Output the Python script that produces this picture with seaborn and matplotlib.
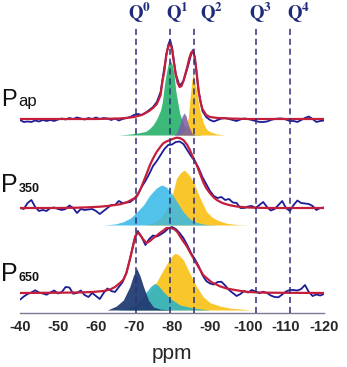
import numpy as np
import pandas as pd
import seaborn as sns
import matplotlib.pyplot as plt

# chemical shift grid for the measured spectra (ppm)
grid = np.arange(-40, -121, -1)

# ---- P_ap : measured (blue) and fit (red), heights above baseline
pap_blue = [-1, -3, -2.5, -3, -1.5, -2.5, -1, -2, -1, -2,
            -0.5, 0.5, -0.5, 1, 0, 1.5, 0.5, -0.5, 1, 0,
            1.5, 0, 1, 0.5, -1, 0.5, -1.5, 0, 1, 2,
            4, 5, 4, 6, 9, 12, 17, 27, 52, 74,
            72, 45, 33, 38, 50, 64, 61, 28, 8, 2,
            -1, -2.5, -1, 0.5, 1, 0, -1, -2, -0.5, 0.5,
            0, -1, -2, -3, -3, -2.5, -1, 0, 0.5, 0.5,
            -0.5, -2, -2, -3, -1, 1, 2.5, 0, -3, -2, -1.5]
pap_blue_peak_ppm = [-79.5, -85.5]
pap_blue_peak = [79, 69]

pap_fit_ppm = [-40, -50, -60, -66, -68, -70, -71, -72, -73, -74, -75, -76, -77, -77.5,
               -78, -78.5, -79, -79.5, -80, -80.5, -81, -81.5, -82, -82.5, -83, -83.5,
               -84, -84.5, -85, -85.5, -86, -86.5, -87, -87.5, -88, -89, -90, -92, -95,
               -100, -110, -120]
pap_fit = [0, 0, 0, 0.5, 1, 2, 3, 4, 6, 8, 11, 15, 24, 38,
           48, 65, 72, 76, 70, 56, 44, 36, 32, 33, 38, 45,
           52, 60, 66, 68, 62, 46, 28, 17, 10, 4, 2, 1, 0.5,
           0, 0, 0]

# P_ap components
pap_green_ppm = [-66, -69, -71, -73, -74, -75, -76, -77, -77.5, -78, -78.5, -79, -79.5,
                 -80, -80.5, -81, -81.5, -82, -83, -84, -85, -86, -88]
pap_green = [0, 1, 2, 3.5, 6, 10, 16, 25, 34, 50, 62, 71, 75,
             71, 62, 44, 33, 22, 11, 5, 2.5, 1, 0]
pap_purple_ppm = [-80.5, -81.2, -82.1, -82.7, -83.2, -83.7, -84.3, -85.2, -86]
pap_purple = [0, 2, 11, 19, 22, 19, 10, 2, 0]
pap_yellow_ppm = [-82, -83, -83.9, -84.3, -84.7, -85.2, -85.6, -86, -86.5, -87, -87.4,
                  -88.3, -89, -90, -91.8, -94]
pap_yellow = [0, 3, 10, 18, 35, 54, 62, 55, 43, 31, 23, 11.7, 6, 3.3, 1, 0]

# ---- P_350
p350_blue = [0, -1, 5, 8, 1, -3, -2, -3, 0, 0.5,
             -1, -2, -1, 2.5, 0, -5, -1, -2, -1.5, -1,
             -3, -6, -3, 0, 3, 3, 7, 5, 5.5, 6,
             9, 14, 21, 27, 34, 42, 47, 53, 59, 63,
             63.5, 66, 66.5, 64, 58, 52, 47, 40, 31, 24,
             17, 12, 10, 11, 8, 9, 5.5, 5, 0, 0,
             1.5, 2, 0, 3, 6, 1, -2.5, -1, 3, 7,
             0, -3, 3, 7.5, 5, 4.5, 4, 2, -2, 0, 0.5]
p350_fit_ppm = [-40, -50, -55, -58, -61, -63, -65, -66.3, -68, -69, -70, -70.7, -71.5,
                -72.5, -73.5, -74.2, -75, -76, -77, -77.7, -78.5, -79.5, -80.5, -81.2,
                -82, -83, -84, -84.7, -85.5, -86.5, -87.5, -88.2, -89, -90, -91, -91.8,
                -93, -93.5, -95, -97, -100, -105, -120]
p350_fit = [0, 0, 0.3, 0.7, 1.3, 2, 3, 3.7, 5.5, 7.5, 9.5, 11.3, 17,
            26.3, 36, 43, 49.5, 56.3, 61.5, 64.7, 66.5, 68, 69.5, 70.3,
            70, 68, 63, 58, 51, 43, 33, 26, 20, 14.7, 10.5, 8,
            5.5, 4.7, 3, 1.5, 0.5, 0, 0]
p350_cyan_ppm = [-62, -65, -67, -69, -70.5, -72.5, -74.2, -76, -77.3, -78.5, -80, -81.5,
                 -83, -84.7, -86.5, -89, -92]
p350_cyan = [0, 1, 3, 6.7, 12, 20, 30, 37.3, 40, 38, 31, 22, 13, 6, 2.5, 0.5, 0]
p350_yellow_ppm = [-73, -75, -77, -78.5, -79.5, -80.3, -81.2, -82.2, -83.2, -84.3, -85.6,
                   -87.4, -89.1, -90.5, -91.8, -94.4, -97, -100]
p350_yellow = [0, 2, 7, 15, 24, 33.3, 46.7, 52, 55, 51, 43.3, 26.7, 13.3, 8, 5, 1.7, 0.5, 0]

# ---- P_650
p650_blue = [-6.7, -3.5, -1, 0.5, 2.7, 0.5, -0.5, -1.7, 0.5, 2.5,
             -0.5, 1, 6, 5.5, -0.7, 0, 2.5, -2, -4, 0,
             -3, -6, 0, 4.5, 2, 1, 6, 11, 20, 35,
             52, 62, 56, 48, 54, 57.5, 56.5, 58.5, 61, 64.5,
             66, 64, 60, 55, 48, 40, 34, 27, 18, 12,
             9.5, 8.5, 11, 11.3, 7.5, 3, 0, -3, -1, 2,
             0.5, 3, 1.5, -0.3, 1.3, 0, -2.5, -4, -4.3, -1.5,
             1.5, 3, 3, 2.5, 4, 8, 1, -3, -1.5, -2.5, -1]
p650_fit_ppm = [-40, -50, -55, -59, -62, -63.7, -65, -66.3, -67.2, -68, -68.9, -69.7,
                -70.3, -71.1, -71.8, -72.5, -73.3, -74.2, -75.1, -76, -76.8, -77.7,
                -78.6, -79.5, -80.2, -80.8, -81.5, -82.1, -83, -83.9, -84.7, -85.6,
                -86.5, -87.4, -88.2, -89.1, -90.5, -91.8, -92.6, -94.4, -97, -100,
                -105, -120]
p650_fit = [0, 0.3, 0.5, 1, 2, 3.5, 6, 10, 13.3, 20, 33.3, 46,
            56.7, 60.7, 57, 53.3, 50, 52, 55, 57.5, 60, 62.5,
            65, 65, 64.5, 63.3, 60.5, 56.7, 51.5, 46.7, 41, 35,
            29, 23.3, 18, 15, 10.5, 8.3, 6.7, 4.5, 2.7, 1,
            0.3, 0]
p650_navy_ppm = [-63, -65.4, -67.2, -68.9, -69.8, -70.7, -71.6, -72.5, -73.8, -75.1, -77, -80]
p650_navy = [0, 4, 10, 23.3, 34, 41.7, 34, 23.3, 10, 3, 0.8, 0]
p650_teal_ppm = [-66, -68, -69.8, -71.6, -73.3, -74.5, -75.5, -76.5, -77.7, -79.5, -82.1,
                 -85.6, -90]
p650_teal = [0, 1.5, 4, 10, 18.3, 24, 26.7, 24, 18.3, 11.7, 5, 2, 0]
p650_yellow_ppm = [-68, -70.7, -72.5, -74.2, -76, -77.7, -79, -80, -80.8, -81.8, -83, -84.7,
                   -86.5, -88.2, -90, -92.6, -95, -98, -101]
p650_yellow = [0, 3, 8.3, 16.7, 28.3, 40, 48.3, 54, 56.7, 55, 50, 36.7,
               23.3, 13.3, 7.3, 4, 2, 1, 0]

# Q^n reference positions
q_names = ['0', '1', '2', '3', '4']
q_ppm = [-70.5, -79.5, -85.8, -102, -111]
q_label_ppm = [-71.4, -81.3, -90.3, -103.4, -113.2]
xticks = [-40, -50, -60, -70, -80, -90, -100, -110, -120]

# colours
RED = '#c41e3a'
BLUE = '#1c1c96'
DASH = '#2c2f7c'
GREEN = '#3cb878'
YELLOW = '#f9c62b'
PURPLE = '#7b5aa6'
CYAN = '#35b8e8'
TEAL = '#2db3c6'
NAVY = '#223d73'

sns.set_style('white')
plt.rcParams['font.family'] = ['Liberation Sans', 'DejaVu Sans']
plt.rcParams['mathtext.fontset'] = 'stix'

W, H = 347, 367
fig = plt.figure(figsize=(W / 100, H / 100), dpi=100)
ax = fig.add_axes([20 / W, 54 / H, 304 / W, 313 / H])

# vertical offsets (pixel units above axis line)
off = {'ap': 194, '350': 105, '650': 20}
fill_off = {'ap': 178, '350': 88, '650': 3}


def component(ppm, vals, base, color, alpha=1.0, z=1):
    ax.fill_between(ppm, np.array(vals) + base, base, color=color, alpha=alpha,
                    lw=0, zorder=z)


def spectrum(ppm, vals, base, color, lw, z):
    d = pd.DataFrame({'ppm': ppm, 'y': np.array(vals, dtype=float) + base})
    sns.lineplot(data=d, x='ppm', y='y', ax=ax, color=color, lw=lw,
                 estimator=None, sort=True, zorder=z)


# P_ap
component(pap_green_ppm, pap_green, fill_off['ap'], GREEN)
component(pap_yellow_ppm, pap_yellow, fill_off['ap'], YELLOW)
component(pap_purple_ppm, pap_purple, fill_off['ap'], PURPLE, alpha=0.85)
spectrum(list(grid) + pap_blue_peak_ppm, pap_blue + pap_blue_peak, off['ap'], BLUE, 1.3, 2)
spectrum(pap_fit_ppm, pap_fit, off['ap'], RED, 1.6, 3)

# P_350
component(p350_yellow_ppm, p350_yellow, fill_off['350'], YELLOW)
component(p350_cyan_ppm, p350_cyan, fill_off['350'], CYAN, alpha=0.85)
spectrum(grid, p350_blue, off['350'], BLUE, 1.3, 2)
spectrum(p350_fit_ppm, p350_fit, off['350'], RED, 1.6, 3)

# P_650
component(p650_yellow_ppm, p650_yellow, fill_off['650'], YELLOW)
component(p650_teal_ppm, p650_teal, fill_off['650'], TEAL, alpha=0.9)
component(p650_navy_ppm, p650_navy, fill_off['650'], NAVY, alpha=0.95)
spectrum(grid, p650_blue, off['650'], BLUE, 1.3, 2)
spectrum(p650_fit_ppm, p650_fit, off['650'], RED, 1.6, 3)

# Q^n dashed guides and labels
ax.vlines(q_ppm, 0, 286, colors=DASH, linestyles=(0, (4, 2.5)), lw=1.1, zorder=4)
for n, xq in zip(q_names, q_label_ppm):
    ax.text(xq, 293.5, r'$\mathbf{Q^{%s}}$' % n, ha='center', va='baseline',
            fontsize=13.5, color='#1f2a7a')

# sample labels
for name, yb, fs, sub_fs, sub_w in [('ap', 106, 17, 12, 'normal'),
                                    ('350', 192, 18, 9, 'bold'),
                                    ('650', 281, 18, 9, 'bold')]:
    fig.text(1 / W, 1 - yb / H, 'P', fontsize=fs, ha='left', va='baseline', color='#111')
    fig.text(18.5 / W, 1 - yb / H, name, fontsize=sub_fs, ha='left', va='baseline',
             color='#111', fontweight=sub_w)

ax.set_xlim(-40, -120)
ax.set_ylim(0, 313)
ax.set_xticks(xticks)
ax.set_xticklabels([str(t) for t in xticks], fontweight='bold', fontsize=10.5)
ax.set_yticks([])
ax.tick_params(axis='x', direction='in', length=4, width=1, color='#6b6b80', pad=5)
for s in ['top', 'left', 'right']:
    ax.spines[s].set_visible(False)
ax.spines['bottom'].set_color('#7a7a95')
ax.spines['bottom'].set_linewidth(1)
ax.set_xlabel('ppm', fontsize=15, labelpad=7)
ax.set_ylabel('')
ax.patch.set_alpha(0)

fig.savefig('out.png', dpi=100)
